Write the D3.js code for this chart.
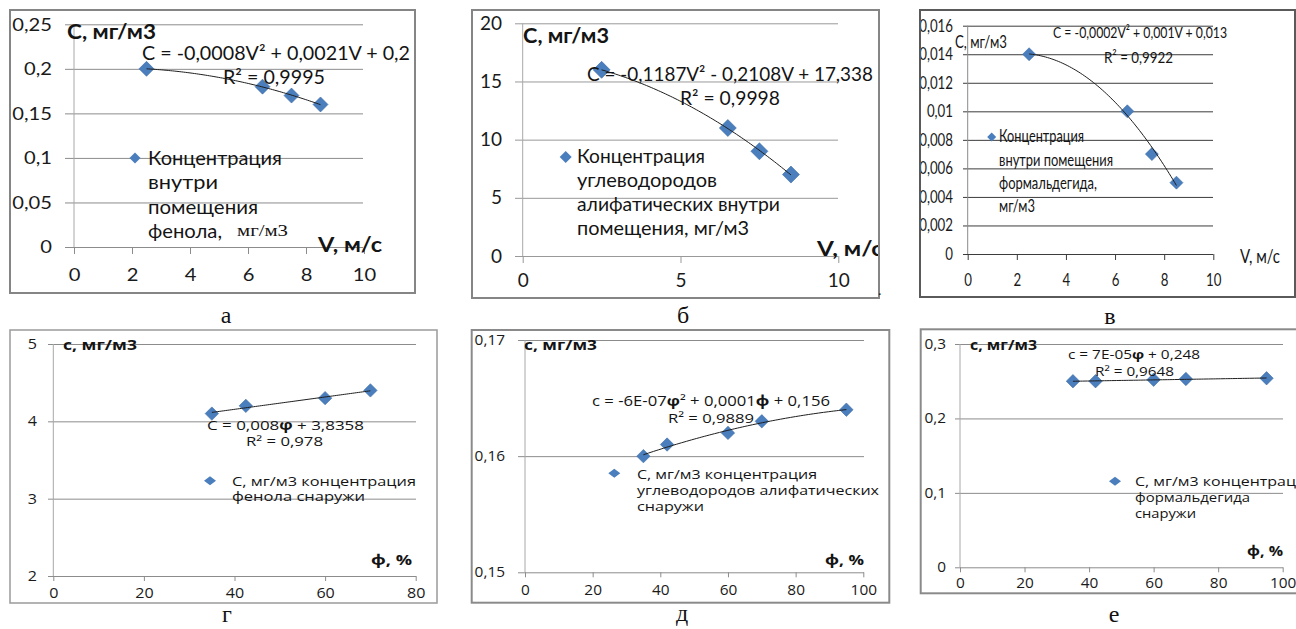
<!DOCTYPE html>
<html>
<head>
<meta charset="utf-8">
<script src="https://cdn.jsdelivr.net/npm/d3@7"></script>
<style>
  body { margin: 0; background: #fff; }
  svg { display: block; }
</style>
</head>
<body>
<svg id="fig" width="1296" height="629"></svg>
<script>
// ---- measurements -------------------------------------------------------
// air speed, m/s (indoor series)
const speed = [2.5, 6.5, 7.5, 8.5];
const phenolIn = [0.20, 0.18, 0.17, 0.16];
const hydrocarbonIn = [16, 11, 9, 7];
const formaldehydeIn = [0.014, 0.010, 0.007, 0.005];
// relative humidity, % (outdoor series)
const humidityPhenol = [35, 42.5, 60, 70];
const phenolOut = [4.1, 4.2, 4.3, 4.4];
const humidity = [35, 42, 60, 70, 95];
const hydrocarbonOut = [0.160, 0.161, 0.162, 0.163, 0.164];
const formaldehydeOut = [0.250, 0.250, 0.252, 0.253, 0.254];

// ---- tick labels --------------------------------------------------------
const yTicksA = ["0", "0,05", "0,1", "0,15", "0,2", "0,25"];
const xTicksA = ["0", "2", "4", "6", "8", "10"];
const yTicksB = ["0", "5", "10", "15", "20"];
const xTicksB = ["0", "5", "10"];
const yTicksV = ["0", "0,002", "0,004", "0,006", "0,008", "0,01", "0,012", "0,014", "0,016"];
const xTicksV = ["0", "2", "4", "6", "8", "10"];
const yTicksG = ["2", "3", "4", "5"];
const xTicksG = ["0", "20", "40", "60", "80"];
const yTicksD = ["0,15", "0,16", "0,17"];
const xTicksD = ["0", "20", "40", "60", "80", "100"];
const yTicksE = ["0", "0,1", "0,2", "0,3"];
const xTicksE = ["0", "20", "40", "60", "80", "100"];

const num = s => +s.replace(",", ".");

// least-squares polynomial trend (Excel-style trendline)
function polyfit(xs, ys, deg) {
  const m = deg + 1;
  const A = Array.from({length: m}, () => new Array(m + 1).fill(0));
  for (let r = 0; r < m; r++) {
    for (let c = 0; c < m; c++) A[r][c] = d3.sum(xs, x => Math.pow(x, r + c));
    A[r][m] = d3.sum(xs, (x, i) => Math.pow(x, r) * ys[i]);
  }
  for (let i = 0; i < m; i++) {
    let p = i;
    for (let r = i + 1; r < m; r++) if (Math.abs(A[r][i]) > Math.abs(A[p][i])) p = r;
    [A[i], A[p]] = [A[p], A[i]];
    for (let r = 0; r < m; r++) {
      if (r === i) continue;
      const f = A[r][i] / A[i][i];
      for (let c = i; c <= m; c++) A[r][c] -= f * A[i][c];
    }
  }
  return A.map((row, i) => row[m] / row[i]);
}

const svg = d3.select("#fig");
const defs = svg.append("defs");

function addText(parent, o) {
  const t = parent.append("text")
    .attr("x", o.x).attr("y", o.y)
    .attr("font-family", o.family)
    .attr("font-size", o.size)
    .attr("font-weight", o.weight || "normal")
    .attr("fill", o.fill || "#141414")
    .attr("text-anchor", o.anchor || "start");
  const parts = typeof o.text === "string" ? [[o.text, ""]] : o.text;
  parts.forEach(([s, w]) => t.append("tspan").attr("font-weight", w || null).text(s));
  if (o.w) t.attr("textLength", o.w).attr("lengthAdjust", "spacingAndGlyphs");
  return t;
}

function stretch(sel, k) {
  if (k === 1) return;
  sel.each(function () {
    const n = this.getComputedTextLength();
    d3.select(this).attr("textLength", n * k).attr("lengthAdjust", "spacingAndGlyphs");
  });
}

const diamond = (rx, ry) => `M0,${-ry}L${rx},0L0,${ry}L${-rx},0Z`;
const BLUE = "#4a7ebc";

function drawPanel(p) {
  const clipId = "clip-" + p.id;
  defs.append("clipPath").attr("id", clipId).append("rect")
    .attr("x", p.frame[0]).attr("y", p.frame[1])
    .attr("width", p.frame[2]).attr("height", p.frame[3]);

  const g = svg.append("g").attr("clip-path", `url(#${clipId})`);
  const x = d3.scaleLinear().domain(p.xDomain).range(p.xRange);
  const y = d3.scaleLinear().domain(p.yDomain).range(p.yRange);
  const x0 = p.xRange[0];

  // value axis + horizontal gridlines
  const yVals = p.yTicks.map(num);
  const ya = g.append("g").attr("transform", `translate(${x0},0)`)
    .call(d3.axisLeft(y).tickValues(yVals)
      .tickFormat(d => p.yTicks[yVals.indexOf(d)])
      .tickSizeInner(-(p.gridRight - x0)).tickSizeOuter(0)
      .tickPadding(x0 - p.yLabelRight));
  ya.select(".domain").remove();
  ya.selectAll(".tick line")
    .attr("x1", -(x0 - p.gridLeft))
    .attr("stroke", p.gridColor).attr("stroke-width", 1);
  ya.selectAll(".tick text")
    .attr("font-family", p.tickFamily).attr("font-size", p.tickSize)
    .attr("fill", "#1a1a1a");
  stretch(ya.selectAll(".tick text"), p.tickK);

  // vertical axis line
  g.append("line")
    .attr("x1", x0).attr("x2", x0)
    .attr("y1", y(p.yDomain[1])).attr("y2", y(p.yDomain[0]))
    .attr("stroke", p.axisColor).attr("stroke-width", 1);

  // category axis ticks and labels
  const xVals = p.xTicks.map(num);
  const xa = g.append("g").attr("transform", `translate(0,${p.yRange[0]})`)
    .call(d3.axisBottom(x).tickValues(xVals)
      .tickFormat(d => p.xTicks[xVals.indexOf(d)])
      .tickSizeInner(p.xTickLen).tickSizeOuter(0));
  xa.select(".domain").remove();
  xa.selectAll(".tick line").attr("stroke", p.gridColor);
  xa.selectAll(".tick text")
    .attr("y", p.xLabelY - p.yRange[0]).attr("dy", null)
    .attr("font-family", p.tickFamily).attr("font-size", p.tickSize)
    .attr("fill", "#1a1a1a");
  stretch(xa.selectAll(".tick text"), p.tickK);

  // markers
  const pts = p.xs.map((v, i) => [v, p.ys[i]]);
  g.append("g").selectAll("path").data(pts).join("path")
    .attr("transform", d => `translate(${x(d[0])},${y(d[1])})`)
    .attr("d", diamond(p.r, p.r))
    .attr("fill", BLUE).attr("stroke", "#3c6ca6").attr("stroke-width", 0.6);

  // trendline
  const coef = polyfit(p.xs, p.ys, p.deg);
  const f = v => coef.reduce((s, c, k) => s + c * Math.pow(v, k), 0);
  const [lo, hi] = d3.extent(p.xs);
  const samples = d3.range(81).map(i => lo + (hi - lo) * i / 80);
  g.append("path")
    .attr("d", d3.line().x(v => x(v)).y(v => y(f(v)))(samples))
    .attr("fill", "none").attr("stroke", "#1e1e1e").attr("stroke-width", 1);

  // legend
  const L = p.legend;
  g.append("path").attr("transform", `translate(${L.dx},${L.dy})`)
    .attr("d", diamond(L.rx, L.ry)).attr("fill", BLUE);
  L.lines.forEach(([s, yy, w]) =>
    addText(g, {text: s, x: L.x, y: yy, w, size: L.size, family: p.family}));

  // annotations
  p.texts.forEach(t => addText(g, Object.assign({family: p.family}, t)));

  // frame
  svg.append("rect")
    .attr("x", p.frame[0]).attr("y", p.frame[1])
    .attr("width", p.frame[2]).attr("height", p.frame[3])
    .attr("fill", "none").attr("stroke", p.frameColor).attr("stroke-width", p.frameW);
}

const TOP = "Lato";
const BOT = "Open Sans";

const panels = [
  {
    id: "a", frame: [10, 10, 405, 283], frameColor: "#858585", frameW: 2,
    xDomain: [0, 10], xRange: [74, 364], yDomain: [0, 0.25], yRange: [247, 24.3],
    gridLeft: 65, gridRight: 363, gridColor: "#8c8c8c", axisColor: "#a8a8a8",
    xTickLen: 7, yLabelRight: 52, xLabelY: 281,
    xTicks: xTicksA, yTicks: yTicksA,
    family: TOP, tickFamily: TOP, tickSize: 18, tickK: 1.12,
    xs: speed, ys: phenolIn, r: 7.5, deg: 2,
    legend: {dx: 135, dy: 158, rx: 5.5, ry: 5.5, x: 148, size: 19,
      lines: [["Концентрация", 165, 134], ["внутри", 189, 70], ["помещения", 214, 110], ["фенола,", 238, 74]]},
    texts: [
      {text: "С, мг/м3", x: 67, y: 39, size: 20, weight: "bold", w: 89},
      {text: "C = -0,0008V² + 0,0021V + 0,2", x: 142, y: 60, size: 19, w: 268},
      {text: "R² = 0,9995", x: 223, y: 84, size: 19, w: 102},
      {text: "мг/м3", x: 237, y: 236, size: 17, w: 51, family: "Liberation Serif"},
      {text: "V, м/с", x: 318, y: 252, size: 20, weight: "bold", w: 64}
    ]
  },
  {
    id: "b", frame: [472, 10, 407, 288], frameColor: "#858585", frameW: 2,
    xDomain: [0, 10], xRange: [522.7, 838.3], yDomain: [0, 20], yRange: [256, 23.3],
    gridLeft: 515, gridRight: 838, gridColor: "#999999", axisColor: "#a8a8a8",
    xTickLen: 7, yLabelRight: 502, xLabelY: 287,
    xTicks: xTicksB, yTicks: yTicksB,
    family: TOP, tickFamily: TOP, tickSize: 19, tickK: 1.0,
    xs: speed, ys: hydrocarbonIn, r: 8.5, deg: 2,
    legend: {dx: 565.7, dy: 157, rx: 6, ry: 6, x: 577, size: 19,
      lines: [["Концентрация", 163, 128], ["углеводородов", 187, 140],
              ["алифатических внутри", 211, 203], ["помещения, мг/м3", 235, 172]]},
    texts: [
      {text: "С, мг/м3", x: 523, y: 43, size: 20, weight: "bold", w: 86},
      {text: "C = -0,1187V² - 0,2108V + 17,338", x: 587, y: 81, size: 19, w: 286},
      {text: "R² = 0,9998", x: 680, y: 105, size: 19, w: 100},
      {text: "V, м/с", x: 817, y: 256, size: 20, weight: "bold", w: 66}
    ]
  },
  {
    id: "v", frame: [920, 10, 375, 287], frameColor: "#5a5a5a", frameW: 2,
    xDomain: [0, 10], xRange: [967.7, 1213.3], yDomain: [0, 0.016], yRange: [254, 25.7],
    gridLeft: 963, gridRight: 1213, gridColor: "#3c3c3c", axisColor: "#8a8a8a",
    xTickLen: 6, yLabelRight: 953, xLabelY: 286,
    xTicks: xTicksV, yTicks: yTicksV,
    family: TOP, tickFamily: TOP, tickSize: 17, tickK: 0.78,
    xs: speed, ys: formaldehydeIn, r: 6.5, deg: 2,
    legend: {dx: 991.7, dy: 137, rx: 4.5, ry: 4.5, x: 999, size: 18,
      lines: [["Концентрация", 142, 85], ["внутри помещения", 166, 114],
              ["формальдегида,", 189, 98], ["мг/м3", 212, 36]]},
    texts: [
      {text: "С, мг/м3", x: 955, y: 48, size: 17, w: 52},
      {text: "C = -0,0002V² + 0,001V + 0,013", x: 1053, y: 38, size: 16, w: 174},
      {text: "R² = 0,9922", x: 1104, y: 63, size: 16, w: 69},
      {text: "V, м/с", x: 1240, y: 263, size: 19, w: 40}
    ]
  },
  {
    id: "g", frame: [10, 330, 427, 273], frameColor: "#9a9a9a", frameW: 1.5,
    xDomain: [0, 80], xRange: [53.3, 415.7], yDomain: [2, 5], yRange: [576, 344],
    gridLeft: 48, gridRight: 416, gridColor: "#8c8c8c", axisColor: "#a8a8a8",
    xTickLen: 5, yLabelRight: 37, xLabelY: 598,
    xTicks: xTicksG, yTicks: yTicksG,
    family: BOT, tickFamily: BOT, tickSize: 14, tickK: 1.15,
    xs: humidityPhenol, ys: phenolOut, r: 6.7, deg: 1,
    legend: {dx: 210, dy: 480.7, rx: 6, ry: 4.5, x: 232, size: 12.5,
      lines: [["С, мг/м3 концентрация", 486, 184], ["фенола снаружи", 501, 133]]},
    texts: [
      {text: "с, мг/м3", x: 63, y: 350, size: 14, weight: "bold", w: 74},
      {text: [["C = 0,008", ""], ["φ", "bold"], [" + 3,8358", ""]], x: 207, y: 430, size: 13.5, w: 157},
      {text: "R² = 0,978", x: 246, y: 445.5, size: 13, w: 77},
      {text: "ф, %", x: 371, y: 565, size: 15, weight: "bold", w: 41}
    ]
  },
  {
    id: "d", frame: [471.7, 330, 417.6, 272.7], frameColor: "#8a8a8a", frameW: 2,
    xDomain: [0, 100], xRange: [525, 863.3], yDomain: [0.15, 0.17], yRange: [572.3, 340],
    gridLeft: 518, gridRight: 864, gridColor: "#8c8c8c", axisColor: "#a8a8a8",
    xTickLen: 5, yLabelRight: 505, xLabelY: 595,
    xTicks: xTicksD, yTicks: yTicksD,
    family: BOT, tickFamily: BOT, tickSize: 14, tickK: 1.1,
    xs: humidity, ys: hydrocarbonOut, r: 6.7, deg: 2,
    legend: {dx: 614.3, dy: 473.3, rx: 6, ry: 4.5, x: 637, size: 12.5,
      lines: [["С, мг/м3 концентрация", 478.5, 180], ["углеводородов алифатических", 494.5, 242],
              ["снаружи", 511, 67]]},
    texts: [
      {text: "с, мг/м3", x: 524, y: 350, size: 14, weight: "bold", w: 73},
      {text: [["c = -6E-07", ""], ["φ", "bold"], ["² + 0,0001", ""], ["ф", "bold"], [" + 0,156", ""]],
        x: 592, y: 406, size: 14, w: 238},
      {text: "R² = 0,9889", x: 668, y: 423, size: 13.5, w: 86},
      {text: "ф, %", x: 825, y: 565, size: 15, weight: "bold", w: 39}
    ]
  },
  {
    id: "e", frame: [920.7, 329.3, 400, 264], frameColor: "#8a8a8a", frameW: 2,
    xDomain: [0, 100], xRange: [960, 1282.7], yDomain: [0, 0.3], yRange: [567.3, 344],
    gridLeft: 955, gridRight: 1283, gridColor: "#8c8c8c", axisColor: "#a8a8a8",
    xTickLen: 5, yLabelRight: 946, xLabelY: 588,
    xTicks: xTicksE, yTicks: yTicksE,
    family: BOT, tickFamily: BOT, tickSize: 14, tickK: 1.1,
    xs: humidity, ys: formaldehydeOut, r: 6.7, deg: 1,
    legend: {dx: 1115, dy: 481.3, rx: 6, ry: 4.5, x: 1135, size: 12.5,
      lines: [["С, мг/м3 концентрация", 486, 180], ["формальдегида", 502, 115], ["снаружи", 518, 61]]},
    texts: [
      {text: "с, мг/м3", x: 970, y: 350, size: 14, weight: "bold", w: 67},
      {text: [["c = 7E-05", ""], ["φ", "bold"], [" + 0,248", ""]], x: 1068, y: 359, size: 13, w: 132},
      {text: "R² = 0,9648", x: 1095, y: 375.5, size: 13, w: 79},
      {text: "ф, %", x: 1247, y: 556, size: 15, weight: "bold", w: 36}
    ]
  }
];

panels.forEach(drawPanel);

// stray period right of panel б
addText(svg, {text: ".", x: 878, y: 295, size: 14, family: "Liberation Serif"});

// panel captions
const captions = [["а", 226, 323], ["б", 683, 323], ["в", 1110, 324],
                  ["г", 227, 622], ["д", 682, 621], ["е", 1114, 622]];
captions.forEach(([s, cx, cy]) =>
  addText(svg, {text: s, x: cx, y: cy, size: 24, anchor: "middle",
                family: "Liberation Serif", fill: "#111"}));
</script>
</body>
</html>
